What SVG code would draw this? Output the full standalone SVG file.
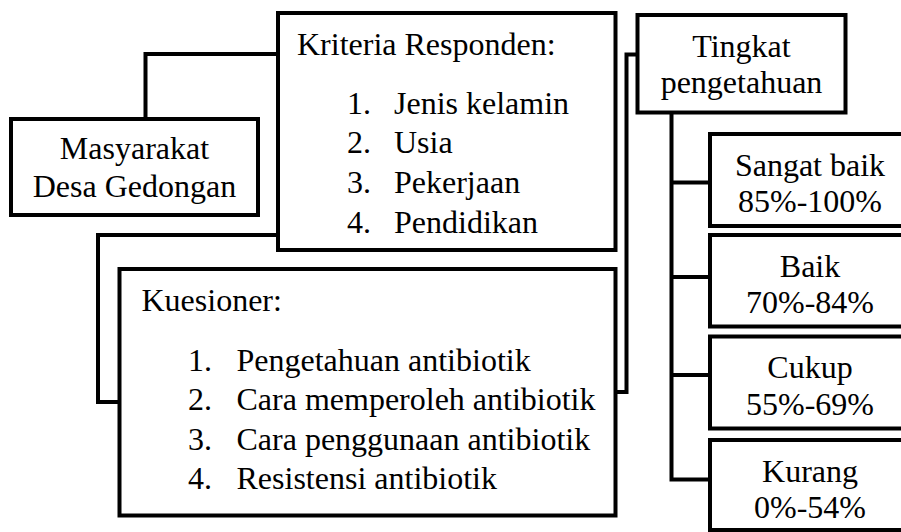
<svg xmlns="http://www.w3.org/2000/svg" width="901" height="532" viewBox="0 0 901 532" font-family="'Liberation Serif', 'Times New Roman', 'DejaVu Serif', serif">
<style>
.box{fill:#fff;stroke:#000;stroke-width:4}
.ln{fill:none;stroke:#000;stroke-width:4}
text{font-family:'Liberation Serif','Times New Roman','DejaVu Serif',serif;font-size:32px;fill:#000}
.c{text-anchor:middle}
</style>
<rect width="901" height="532" fill="#fff"/>
<g id="connectors">
<polyline class="ln" points="145.5,119 145.5,54 278,54"/>
<polyline class="ln" points="278,235 98,235 98,402 119.5,402"/>
<polyline class="ln" points="615.5,392 626.5,392 626.5,54.5 637.5,54.5"/>
<polyline class="ln" points="671.5,112.5 671.5,479.5 710,479.5"/>
<line class="ln" x1="671.5" y1="182.5" x2="710" y2="182.5"/>
<line class="ln" x1="671.5" y1="277" x2="710" y2="277"/>
<line class="ln" x1="671.5" y1="375" x2="710" y2="375"/>
</g>
<g id="masyarakat">
<rect class="box" x="11" y="119" width="247" height="96"/>
<text class="c" x="134.5" y="158.5">Masyarakat</text>
<text class="c" x="134.5" y="197">Desa Gedongan</text>
</g>
<g id="kriteria">
<rect class="box" x="278" y="13" width="337.5" height="237"/>
<text x="297" y="55">Kriteria Responden:</text>
<text x="347" y="113.5">1.</text><text x="394" y="113.5">Jenis kelamin</text>
<text x="347" y="153">2.</text><text x="394" y="153">Usia</text>
<text x="347" y="193">3.</text><text x="394" y="193">Pekerjaan</text>
<text x="347" y="233">4.</text><text x="394" y="233">Pendidikan</text>
</g>
<g id="kuesioner">
<rect class="box" x="119.5" y="269" width="496" height="246.5"/>
<text x="141.5" y="310.5">Kuesioner:</text>
<text x="188" y="370.5">1.</text><text x="236.5" y="370.5">Pengetahuan antibiotik</text>
<text x="188" y="410">2.</text><text x="236.5" y="410">Cara memperoleh antibiotik</text>
<text x="188" y="449.5">3.</text><text x="236.5" y="449.5">Cara penggunaan antibiotik</text>
<text x="188" y="488.5">4.</text><text x="236.5" y="488.5">Resistensi antibiotik</text>
</g>
<g id="tingkat">
<rect class="box" x="637.5" y="15" width="208" height="97.5"/>
<text class="c" x="741.5" y="57">Tingkat</text>
<text class="c" x="741.5" y="93">pengetahuan</text>
</g>
<g id="sangat-baik">
<rect class="box" x="710" y="134" width="200" height="92"/>
<text class="c" x="810" y="175.5">Sangat baik</text>
<text class="c" x="810" y="212">85%-100%</text>
</g>
<g id="baik">
<rect class="box" x="710" y="235" width="200" height="91.5"/>
<text class="c" x="810" y="276.5">Baik</text>
<text class="c" x="810" y="313">70%-84%</text>
</g>
<g id="cukup">
<rect class="box" x="710" y="336.5" width="200" height="92"/>
<text class="c" x="810" y="378">Cukup</text>
<text class="c" x="810" y="415">55%-69%</text>
</g>
<g id="kurang">
<rect class="box" x="710" y="440" width="200" height="90"/>
<text class="c" x="810" y="482">Kurang</text>
<text class="c" x="810" y="518">0%-54%</text>
</g>
</svg>
